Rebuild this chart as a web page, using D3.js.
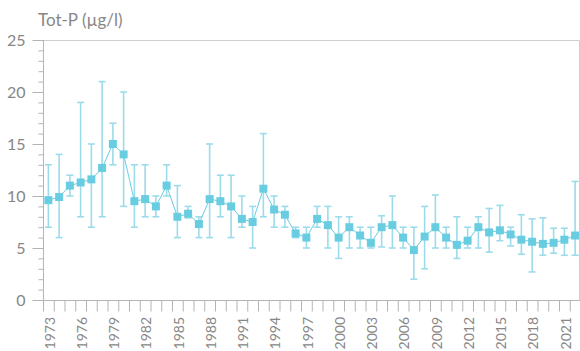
<!DOCTYPE html>
<html>
<head>
<meta charset="utf-8">
<script src="https://cdn.jsdelivr.net/npm/d3@7"></script>
<style>
  html, body { margin: 0; padding: 0; background: #fff; }
  svg { display: block; font-family: Lato, "Open Sans", sans-serif; }
</style>
</head>
<body>
<svg id="chart" width="580" height="351"></svg>
<script>
// Annual total phosphorus, mean with min–max range (µg/l)
const years = d3.range(1973, 2023);
const meanValues = [
  9.6, 9.9, 11.0, 11.3, 11.6, 12.7, 15.0, 14.0, 9.5, 9.7,
  9.0, 11.0, 8.0, 8.3, 7.3, 9.7, 9.5, 9.0, 7.8, 7.5,
  10.7, 8.7, 8.2, 6.4, 6.0, 7.8, 7.2, 6.0, 7.0, 6.2,
  5.5, 7.0, 7.2, 6.0, 4.8, 6.1, 7.0, 6.0, 5.3, 5.7,
  7.0, 6.5, 6.7, 6.3, 5.8, 5.6, 5.4, 5.5, 5.8, 6.2
];
const maxValues = [
  13, 14, 12, 19, 15, 21, 17, 20, 13, 13,
  10, 13, 11, 9, 8, 15, 12, 12, 10, 9,
  16, 10, 9, 7, 7, 9, 9, 8, 8, 7,
  7, 8.1, 10, 7, 7, 9, 10.1, 7, 8, 7,
  8, 8.8, 9.1, 7, 8.2, 7.8, 7.9, 6.9, 6.9, 11.4
];
const minValues = [
  7, 6, 10, 8, 7, 8, 13, 9, 7, 8,
  8, 10, 6, 7.9, 6, 6, 8, 6, 7, 5,
  8, 7, 7, 6, 5, 7, 5, 4, 5, 5,
  5, 5.1, 5, 5, 2, 3, 5, 5, 4, 5,
  5, 4.6, 5.7, 5.2, 4.4, 2.7, 4.3, 4.5, 4.3, 4.3
];
const yTicks = [0, 5, 10, 15, 20, 25];
const labelYears = years.filter(y => (y - 1973) % 3 === 0);
const yTitle = "Tot-P (µg/l)";

const rows = years.map((yr, i) => ({ yr, mean: meanValues[i], lo: minValues[i], hi: maxValues[i] }));

const plotLeft = 43, plotRight = 580.5, plotTop = 40, plotBottom = 300;
const textColor = "#878787";
const axisColor = "#b4b4b4";
const frameColor = "#cfcfcf";
const markColor = "#68cde1";
const barColor = "#9cdcea";

const svg = d3.select("#chart");

const x = d3.scaleBand().domain(years).range([plotLeft, plotRight]).paddingInner(0).paddingOuter(0);
const xEdge = d3.scaleLinear().domain([1972.5, 2022.5]).range([plotLeft, plotRight]);
const y = d3.scaleLinear().domain([0, 25]).range([plotBottom, plotTop]);
const cx = d => x(d) + x.bandwidth() / 2;

// frame: top and right border
svg.append("path")
  .attr("d", `M${plotLeft},${plotTop + 0.5}H${579.5}V${plotBottom}`)
  .attr("fill", "none").attr("stroke", frameColor).attr("stroke-width", 1);

// y axis: minor ticks every unit, major every 5
const yMinor = svg.append("g").attr("transform", `translate(${plotLeft + 0.5},0)`)
  .call(d3.axisLeft(y).tickValues(d3.range(0, 26)).tickSize(5).tickFormat(""));
yMinor.select(".domain").remove();
yMinor.selectAll("line").attr("stroke", axisColor);

const yAxis = svg.append("g").attr("transform", `translate(${plotLeft + 0.5},0)`)
  .call(d3.axisLeft(y).tickValues(yTicks).tickSize(11).tickSizeOuter(0).tickPadding(7));
yAxis.select(".domain").attr("stroke", axisColor).attr("d", `M0,${plotTop}V${plotBottom + 11}`);
yAxis.selectAll("line").attr("stroke", axisColor);
yAxis.selectAll("text").attr("fill", textColor).style("font-size", "16px")
  .style("font-family", "Lato, 'Open Sans', sans-serif");

// x axis: ticks on year boundaries, rotated year labels every third year
const xTicks = svg.append("g").attr("transform", `translate(0,${plotBottom + 0.5})`)
  .call(d3.axisBottom(xEdge).tickValues(d3.range(1972.5, 2023, 1)).tickSize(11).tickSizeOuter(0).tickFormat(""));
xTicks.select(".domain").attr("stroke", axisColor).attr("d", `M${plotLeft},0H${plotRight}`);
xTicks.selectAll("line").attr("stroke", axisColor);

const xLabels = svg.append("g").attr("transform", `translate(0,${plotBottom})`)
  .call(d3.axisBottom(x).tickValues(labelYears).tickSize(0).tickFormat(d3.format("d")));
xLabels.select(".domain").remove();
xLabels.selectAll("text")
  .attr("fill", textColor)
  .style("font-size", "14px")
  .style("font-family", "Lato, 'Open Sans', sans-serif")
  .attr("text-anchor", "end")
  .attr("transform", "rotate(-90)")
  .attr("x", -17)
  .attr("y", 0)
  .attr("dy", "0.45em");

// title
svg.append("text").attr("x", 38).attr("y", 26)
  .attr("fill", textColor).style("font-size", "17px").text(yTitle);

// error bars
const bars = svg.append("g").attr("stroke", barColor).attr("stroke-width", 1.6).attr("fill", "none");
bars.selectAll("line.v").data(rows).join("line").attr("class", "v")
  .attr("x1", d => cx(d.yr)).attr("x2", d => cx(d.yr))
  .attr("y1", d => y(d.hi)).attr("y2", d => y(d.lo));
bars.selectAll("line.hi").data(rows).join("line").attr("class", "hi")
  .attr("x1", d => cx(d.yr) - 3.5).attr("x2", d => cx(d.yr) + 3.5)
  .attr("y1", d => y(d.hi)).attr("y2", d => y(d.hi));
bars.selectAll("line.lo").data(rows).join("line").attr("class", "lo")
  .attr("x1", d => cx(d.yr) - 3.5).attr("x2", d => cx(d.yr) + 3.5)
  .attr("y1", d => y(d.lo)).attr("y2", d => y(d.lo));

// mean line
svg.append("path").datum(rows)
  .attr("fill", "none").attr("stroke", markColor).attr("stroke-width", 1)
  .attr("d", d3.line().x(d => cx(d.yr)).y(d => y(d.mean)));

// mean markers
const s = 8;
svg.append("g").selectAll("rect").data(rows).join("rect")
  .attr("x", d => cx(d.yr) - s / 2).attr("y", d => y(d.mean) - s / 2)
  .attr("width", s).attr("height", s).attr("fill", markColor);
</script>
</body>
</html>
